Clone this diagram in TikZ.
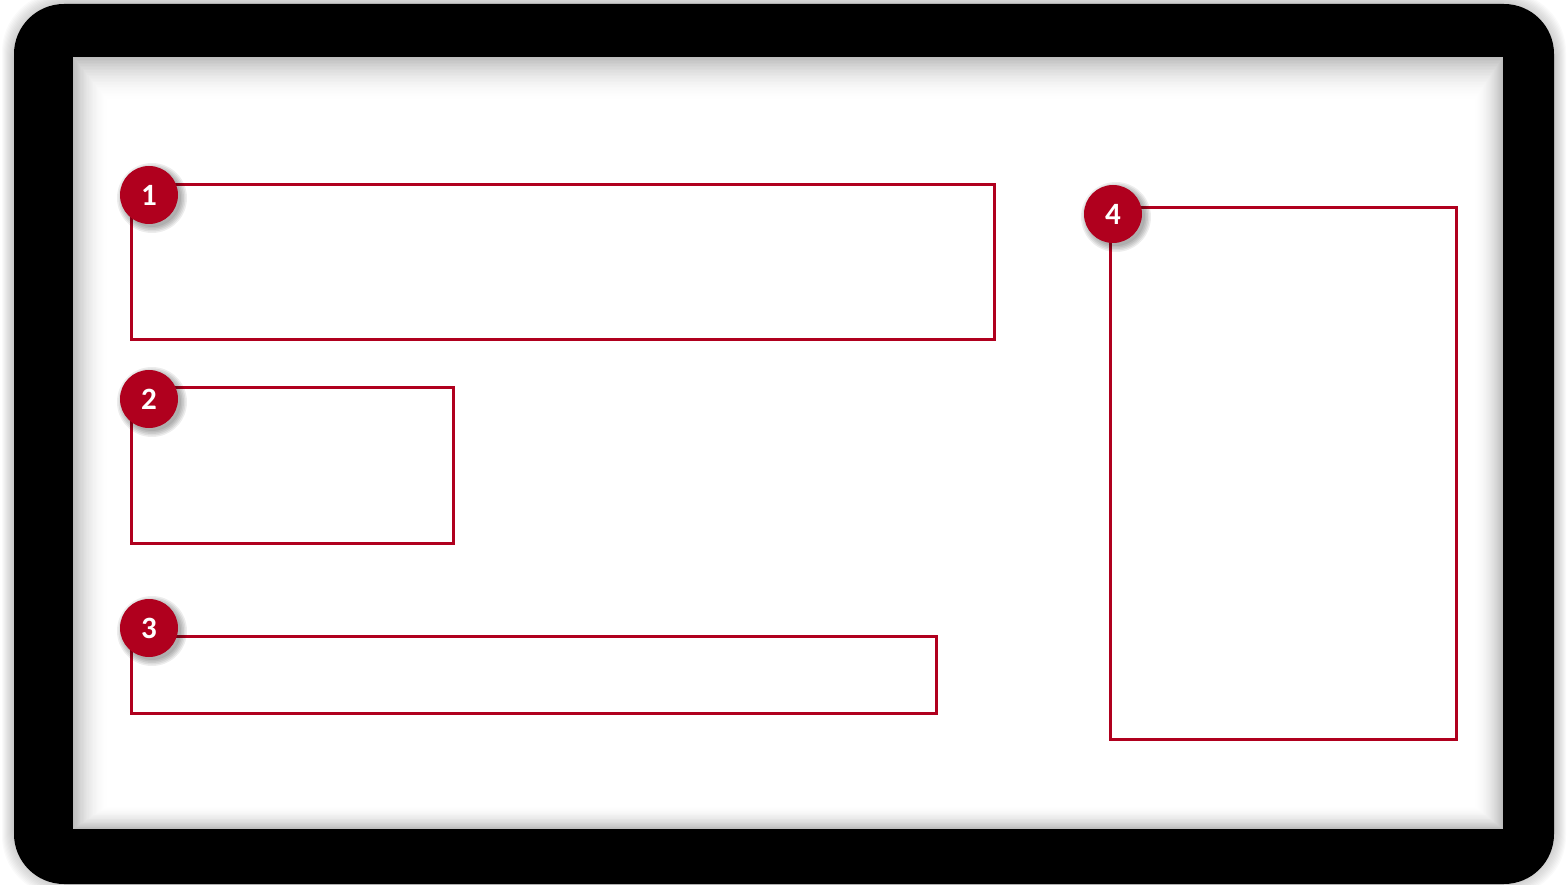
\documentclass[tikz,border=0pt]{standalone}
\usepackage{fontspec}
\newfontfamily\badgefont{Carlito Bold}
\definecolor{accent}{HTML}{B0001E}
\usetikzlibrary{calc}
\tikzset{
  frame box/.style={draw=accent, line width=3pt, inner sep=0pt, anchor=north west},
  badge/.style={circle, fill=accent, minimum size=58pt, inner sep=0pt, text=white, font=\badgefont\fontsize{31}{31}\selectfont},
}
\newcommand{\badgeshadow}[1]{%
  \foreach \r in {29,30.5,...,35}{\fill[black, opacity=0.07] ($(#1)+(3,3)$) circle (\r pt);}%
}
\begin{document}
\begin{tikzpicture}[x=1pt, y=-1pt]
\useasboundingbox (0,0) rectangle (1567,885);
% outer soft shadow
\foreach \i in {1,...,12}{
  \fill[black, opacity=0.018, rounded corners=60pt] (14-\i,4-\i) rectangle (1554+\i,884+\i);
}
% black frame
\fill[black, rounded corners=50pt] (14,4) rectangle (1554,884);
% screen with inner shadow
\foreach \i in {0,...,30}{
  \pgfmathsetmacro{\d}{26*(1-\i/30)^2}
  \fill[black!\d!white] (73+1.2*\i,57+1.5*\i) rectangle (1503-1.0*\i,829-0.8*\i);
}
% boxes
\node[frame box, minimum width=863pt, minimum height=155pt] (r1) at (130,183) {};
\node[frame box, minimum width=322pt, minimum height=156pt] (r2) at (130,386) {};
\node[frame box, minimum width=805pt, minimum height=77pt] (r3) at (130,635) {};
\node[frame box, minimum width=346pt, minimum height=532pt] (r4) at (1109,206) {};
% badges
\coordinate (c1) at (149,195);
\coordinate (c2) at (149,399);
\coordinate (c3) at (149,628);
\coordinate (c4) at (1113,214);
\badgeshadow{c1}\badgeshadow{c2}\badgeshadow{c3}\badgeshadow{c4}
\node[badge] (b1) at (c1) {1};
\node[badge] (b2) at (c2) {2};
\node[badge] (b3) at (c3) {3};
\node[badge] (b4) at (c4) {4};
\end{tikzpicture}
\end{document}
